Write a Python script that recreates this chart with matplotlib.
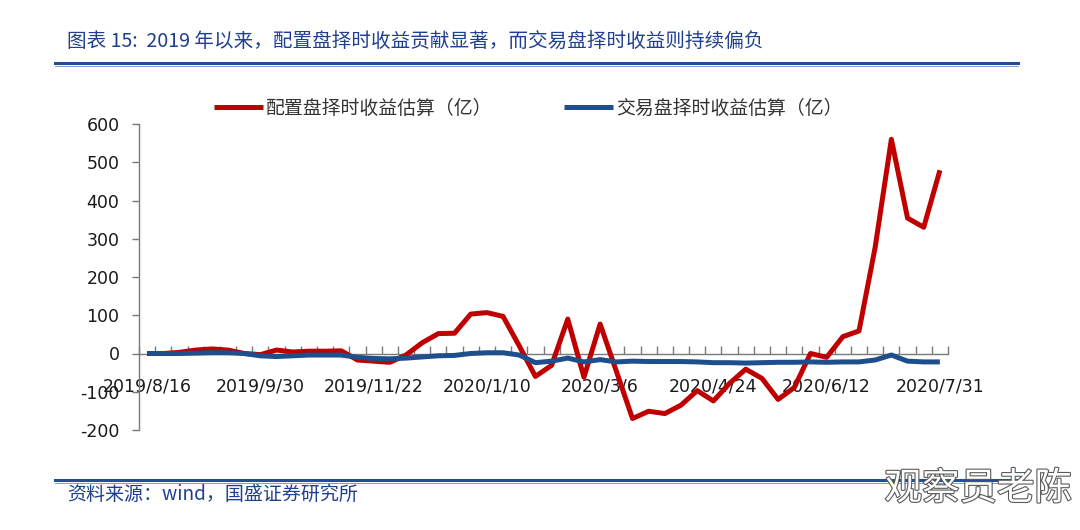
import matplotlib
matplotlib.use("Agg")
import matplotlib.pyplot as plt
import matplotlib.patheffects as pe
from matplotlib.lines import Line2D
from matplotlib.ticker import FixedLocator

# weekly observation dates (category axis)
dates = ["2019/8/16", "2019/8/23", "2019/8/30", "2019/9/6", "2019/9/12",
         "2019/9/20", "2019/9/27", "2019/9/30", "2019/10/11", "2019/10/18",
         "2019/10/25", "2019/11/1", "2019/11/8", "2019/11/15", "2019/11/22",
         "2019/11/29", "2019/12/6", "2019/12/13", "2019/12/20", "2019/12/27",
         "2020/1/3", "2020/1/10", "2020/1/17", "2020/1/23", "2020/2/7",
         "2020/2/14", "2020/2/21", "2020/2/28", "2020/3/6", "2020/3/13",
         "2020/3/20", "2020/3/27", "2020/4/3", "2020/4/10", "2020/4/17",
         "2020/4/24", "2020/4/30", "2020/5/8", "2020/5/15", "2020/5/22",
         "2020/5/29", "2020/6/5", "2020/6/12", "2020/6/19", "2020/6/24",
         "2020/7/3", "2020/7/10", "2020/7/17", "2020/7/24", "2020/7/31"]

# 配置盘择时收益估算（亿）
peizhi = [0, 0, 3, 9, 12, 9, 0, -3, 9, 4,
          6, 6, 7, -17, -20, -23, -4, 28, 52, 53,
          103, 107, 97, 20, -60, -31, 90, -62, 77, -46,
          -170, -151, -157, -135, -97, -124, -78, -41, -65, -120,
          -89, 0, -10, 44, 59, 278, 560, 354, 330, 479]

# 交易盘择时收益估算（亿）
jiaoyi = [0, 0, 0, 1, 2, 2, 0, -6, -8, -6,
          -4, -4, -4, -10, -13, -14, -12, -9, -6, -5,
          0, 2, 2, -4, -24, -20, -12, -22, -16, -22,
          -20, -21, -21, -21, -22, -24, -24, -25, -24, -23,
          -23, -22, -23, -22, -22, -17, -4, -20, -22, -22]

series_names = ["配置盘择时收益估算（亿）", "交易盘择时收益估算（亿）"]
yticks = [-200, -100, 0, 100, 200, 300, 400, 500, 600]
label_every = 7

title = "图表 15:  2019 年以来，配置盘择时收益贡献显著，而交易盘择时收益则持续偏负"
source = "资料来源：wind，国盛证券研究所"
watermark = "观察员老陈"

RED = "#C00000"
BLUE = "#1F4E8C"
HEAD = "#1F4E9A"

plt.rcParams["font.family"] = ["DejaVu Sans", "Noto Sans CJK SC"]
plt.rcParams["axes.unicode_minus"] = False
cjk = ["Noto Sans CJK SC", "DejaVu Sans"]

fig = plt.figure(figsize=(10.8, 5.3), dpi=100)
ax = fig.add_axes([139 / 1080, 1 - 430 / 530, 809 / 1080, 306 / 530])

x = list(range(len(dates)))
ax.plot(x, peizhi, color=RED, lw=3.6, solid_joinstyle="round",
        solid_capstyle="butt", label=series_names[0], zorder=3)
ax.plot(x, jiaoyi, color=BLUE, lw=3.6, solid_joinstyle="round",
        solid_capstyle="butt", label=series_names[1], zorder=4)

ax.set_xlim(-0.5, len(dates) - 0.5)
ax.set_ylim(yticks[0], yticks[-1])

# axes style
for side in ["top", "right"]:
    ax.spines[side].set_visible(False)
ax.spines["bottom"].set_position(("data", 0))
for side in ["left", "bottom"]:
    ax.spines[side].set_color("#7a7a7a")
    ax.spines[side].set_linewidth(1.0)

ax.set_yticks(yticks)
ax.tick_params(axis="y", direction="out", length=5, width=1.0,
               color="#7a7a7a", labelsize=12.5, labelcolor="#1a1a1a", pad=9)

major = list(range(0, len(dates), label_every))
ax.set_xticks(major)
ax.set_xticklabels([dates[i] for i in major])
ax.xaxis.set_minor_locator(FixedLocator([i + 0.5 for i in range(-1, len(dates))]))
ax.tick_params(axis="x", which="major", length=0, labelsize=12.5,
               labelcolor="#1a1a1a", pad=17)
ax.tick_params(axis="x", which="minor", direction="in", length=6, width=1.0,
               color="#7a7a7a")

leg = ax.legend(loc="center", bbox_to_anchor=(528 / 1080, 1 - 108 / 530),
                bbox_transform=fig.transFigure, ncol=2, frameon=False,
                handlelength=2.6, handletextpad=0.15, columnspacing=3.8,
                prop={"family": cjk, "size": 13.6})
for t in leg.get_texts():
    t.set_color("#333333")

# header / footer decorations
fig.text(67 / 1080, 1 - 42 / 530, title, ha="left", va="center",
         fontsize=14.1, color="#1F3F8F", family=cjk)
fig.add_artist(Line2D([55 / 1080, 1018 / 1080], [1 - 63 / 530] * 2,
                      transform=fig.transFigure, color=HEAD, lw=2.2))
fig.add_artist(Line2D([55 / 1080, 1018 / 1080], [1 - 66 / 530] * 2,
                      transform=fig.transFigure, color="#6f8fc8", lw=0.6))
fig.add_artist(Line2D([55 / 1080, 1018 / 1080], [1 - 480 / 530] * 2,
                      transform=fig.transFigure, color=HEAD, lw=2.2))
fig.add_artist(Line2D([55 / 1080, 1018 / 1080], [1 - 483 / 530] * 2,
                      transform=fig.transFigure, color="#6f8fc8", lw=0.6))
fig.text(67 / 1080, 1 - 494 / 530, source, ha="left", va="center",
         fontsize=13.7, color="#1F3F8F", family=cjk)
fig.text(1072 / 1080, 1 - 489 / 530, watermark, ha="right", va="center",
         fontsize=27, color="white", family=cjk,
         path_effects=[pe.withStroke(linewidth=1.6, foreground="#5a5a5a")])

fig.savefig("out.png", dpi=100)
